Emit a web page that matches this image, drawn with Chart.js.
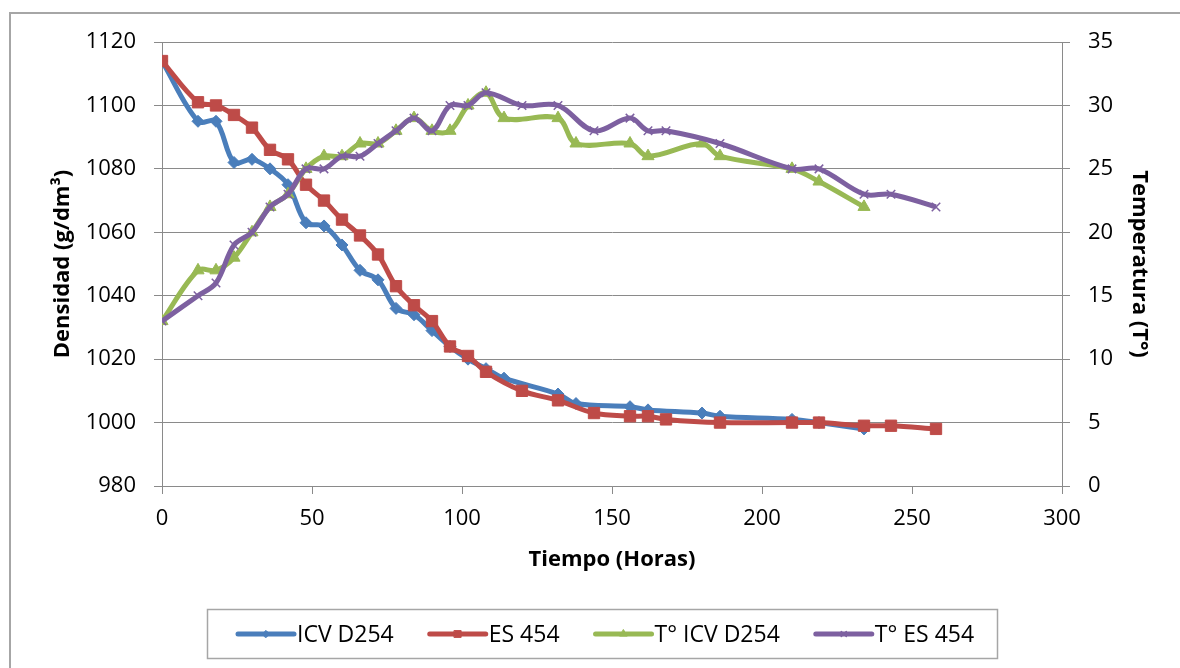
<!DOCTYPE html>
<html>
<head>
<meta charset="utf-8">
<script src="https://cdn.jsdelivr.net/npm/chart.js@4.4.0/dist/chart.umd.min.js"></script>
<style>
  html, body { margin: 0; padding: 0; background: #fff; }
  #wrap { width: 1180px; height: 668px; }
</style>
</head>
<body>
<div id="wrap"><canvas id="chart" width="1180" height="668"></canvas></div>
<script>
// horas de muestreo
const hoursICV = [0, 12, 18, 24, 30, 36, 42, 48, 54, 60, 66, 72, 78, 84, 90, 96, 102, 108, 114, 132, 138, 156, 162, 180, 186, 210, 219, 234];
const hoursES = [0, 12, 18, 24, 30, 36, 42, 48, 54, 60, 66, 72, 78, 84, 90, 96, 102, 108, 120, 132, 144, 156, 162, 168, 186, 210, 219, 234, 243, 258];

// densidad (g/dm3)
const densICV = [1114, 1095, 1095, 1082, 1083, 1080, 1075, 1063, 1062, 1056, 1048, 1045, 1036, 1034, 1029, 1024, 1020, 1017, 1014, 1009, 1006, 1005, 1004, 1003, 1002, 1001, 1000, 998];
const densES = [1114, 1101, 1100, 1097, 1093, 1086, 1083, 1075, 1070, 1064, 1059, 1053, 1043, 1037, 1032, 1024, 1021, 1016, 1010, 1007, 1003, 1002, 1002, 1001, 1000, 1000, 1000, 999, 999, 998];

// temperatura
const tempICV = [13, 17, 17, 18, 20, 22, 23, 25, 26, 26, 27, 27, 28, 29, 28, 28, 30, 31, 29, 29, 27, 27, 26, 27, 26, 25, 24, 22];
const tempES = [13, 15, 16, 19, 20, 22, 23, 25, 25, 26, 26, 27, 28, 29, 28, 30, 30, 31, 30, 30, 28, 29, 28, 28, 27, 25, 25, 23, 23, 22];

const seriesLabels = ['ICV D254', 'ES 454', 'T° ICV D254', 'T° ES 454'];

const FONT = '"Open Sans", "Liberation Sans", sans-serif';
const gridColor = '#8a8a8a';

const toPoints = (xs, ys) => xs.map((x, i) => ({ x, y: ys[i] }));
const plain = v => String(v);

const frame = {
  id: 'frame',
  beforeDraw(chart) {
    const c = chart.ctx;
    c.save();
    c.fillStyle = '#fff';
    c.fillRect(0, 0, chart.width, chart.height);
    c.strokeStyle = '#a6a6a6';
    c.lineWidth = 2;
    c.strokeRect(10, 13, 1300, 800);
    c.restore();
  }
};

const boxLegend = {
  id: 'boxLegend',
  afterDraw(chart) {
    const c = chart.ctx;
    c.save();
    c.strokeStyle = '#a6a6a6';
    c.lineWidth = 1.5;
    c.strokeRect(207.5, 609.5, 790, 49);
    c.font = '23px ' + FONT;
    c.textBaseline = 'middle';
    let x = 238;
    const y = 634;
    chart.data.datasets.forEach(ds => {
      c.strokeStyle = ds.borderColor;
      c.lineWidth = 5;
      c.lineCap = 'round';
      c.beginPath();
      c.moveTo(x, y);
      c.lineTo(x + 56, y);
      c.stroke();
      c.fillStyle = ds.borderColor;
      c.lineWidth = ds.pointBorderWidth;
      Chart.helpers.drawPoint(c, {
        pointStyle: ds.pointStyle,
        radius: ds.pointRadius * 0.6,
        borderWidth: ds.pointBorderWidth,
        rotation: 0
      }, x + 28, y);
      c.fillStyle = '#000';
      c.fillText(ds.label, x + 59, y + 1);
      x += 59 + c.measureText(ds.label).width + 36;
    });
    c.restore();
  }
};

const tickFont = { family: FONT, size: 22 };
const titleFont = { family: FONT, size: 22, weight: 'bold' };

new Chart(document.getElementById('chart').getContext('2d'), {
  type: 'line',
  data: {
    datasets: [
      {
        label: seriesLabels[0],
        data: toPoints(hoursICV, densICV),
        yAxisID: 'y',
        borderColor: '#4a7ebb',
        backgroundColor: '#4a7ebb',
        borderWidth: 5,
        pointStyle: 'rectRot',
        pointRadius: 6,
        pointBorderWidth: 1,
        tension: 0.35,
        order: 4
      },
      {
        label: seriesLabels[1],
        data: toPoints(hoursES, densES),
        yAxisID: 'y',
        borderColor: '#be4b48',
        backgroundColor: '#be4b48',
        borderWidth: 5,
        pointStyle: 'rect',
        pointRadius: 8,
        pointBorderWidth: 1,
        tension: 0.35,
        order: 3
      },
      {
        label: seriesLabels[2],
        data: toPoints(hoursICV, tempICV),
        yAxisID: 'y1',
        borderColor: '#98b954',
        backgroundColor: '#98b954',
        borderWidth: 5,
        pointStyle: 'triangle',
        pointRadius: 7,
        pointBorderWidth: 1,
        tension: 0.35,
        order: 2
      },
      {
        label: seriesLabels[3],
        data: toPoints(hoursES, tempES),
        yAxisID: 'y1',
        borderColor: '#7d60a0',
        backgroundColor: '#7d60a0',
        borderWidth: 5,
        pointStyle: 'crossRot',
        pointRadius: 6,
        pointBorderWidth: 1.5,
        tension: 0.35,
        order: 1
      }
    ]
  },
  options: {
    responsive: false,
    animation: false,
    layout: { padding: { left: 0, right: 0, top: 42, bottom: 82 } },
    plugins: {
      legend: { display: false },
      tooltip: { enabled: false }
    },
    scales: {
      x: {
        type: 'linear',
        min: 0,
        max: 300,
        ticks: { stepSize: 50, padding: 12, color: '#000', font: tickFont, callback: plain },
        grid: { drawOnChartArea: false, tickLength: 8, color: gridColor },
        border: { color: gridColor },
        title: { display: true, text: 'Tiempo (Horas)', color: '#000', font: titleFont, padding: { bottom: 13 } },
        afterFit: s => { s.height = 100; }
      },
      y: {
        position: 'left',
        min: 980,
        max: 1120,
        ticks: { stepSize: 20, padding: 18, color: '#000', font: tickFont, callback: plain },
        grid: { tickLength: 8, color: gridColor },
        border: { color: gridColor },
        title: { display: true, text: 'Densidad (g/dm³)', color: '#000', font: titleFont, padding: { top: 50 } },
        afterFit: s => { s.width = 162; }
      },
      y1: {
        position: 'right',
        min: 0,
        max: 35,
        ticks: { stepSize: 5, padding: 18, color: '#000', font: tickFont, callback: plain },
        grid: { drawOnChartArea: false, tickLength: 8, color: gridColor },
        border: { color: gridColor },
        title: { display: true, text: 'Temperatura (T°)', color: '#000', font: titleFont, padding: { top: 28 } },
        afterFit: s => { s.width = 118; }
      }
    }
  },
  plugins: [frame, boxLegend]
});
</script>
</body>
</html>
